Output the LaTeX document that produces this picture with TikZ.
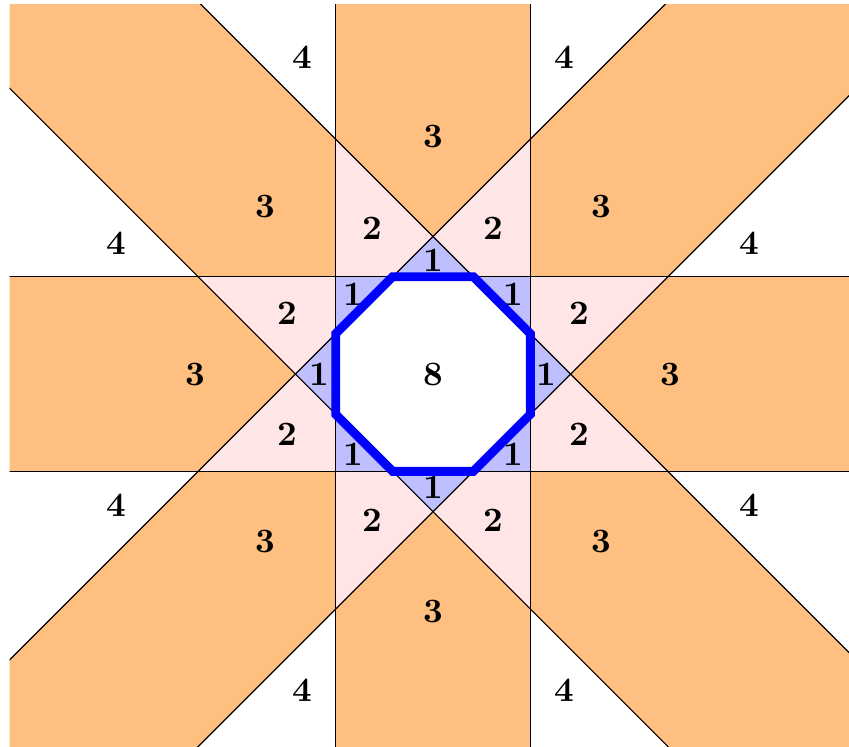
\documentclass[tikz,border=0pt]{standalone}
\newcommand\mystrip[2]{#1[rotate=#2] (-12,-1) rectangle (12,1);}
\tikzset{
  lbl/.style={font=\bfseries, inner sep=0pt},
  thinline/.style={black, line width=0.35pt},
  octo/.style={blue, line width=2.6pt, line join=miter}
}
\begin{document}
\begin{tikzpicture}
\useasboundingbox (-4.45,-3.823) rectangle (4.275,3.844);
\clip (-4.35,-3.823) rectangle (4.275,3.80);
% count >= 1
\foreach \a in {0,45,90,135} {\mystrip{\fill[orange!50]}{\a}}
% count >= 2
\foreach \a/\b in {0/45,0/90,0/135,45/90,45/135,90/135} {
  \begin{scope}\mystrip{\clip}{\a}\mystrip{\fill[red!10]}{\b}\end{scope}
}
% count >= 3
\foreach \a/\b/\c in {0/45/90,0/45/135,0/90/135,45/90/135} {
  \begin{scope}\mystrip{\clip}{\a}\mystrip{\clip}{\b}\mystrip{\fill[blue!25]}{\c}\end{scope}
}
% count = 4
\begin{scope}
  \mystrip{\clip}{0}\mystrip{\clip}{45}\mystrip{\clip}{90}\mystrip{\fill[white]}{135}
\end{scope}
% boundary lines
\foreach \a in {0,45,90,135} {
  \draw[thinline, rotate=\a] (-12,-1) -- (12,-1) (-12,1) -- (12,1);
}
% labels
\foreach \k in {0,...,7} {
  \node[lbl] (four\k)  at ({22.5+45*\k}:3.52) {4};
  \node[lbl] (three\k) at ({45*\k}:2.44) {3};
  \node[lbl] (two\k)   at ({22.5+45*\k}:1.625) {2};
  \node[lbl] (one\k)   at ({45*\k}:1.165) {1};
}
\node[lbl] (eight) at (0,0) {8};
% octagon
\draw[octo] (0.4142,1) -- (1,0.4142) -- (1,-0.4142) -- (0.4142,-1) -- (-0.4142,-1)
  -- (-1,-0.4142) -- (-1,0.4142) -- (-0.4142,1) -- cycle;
\end{tikzpicture}
\end{document}
